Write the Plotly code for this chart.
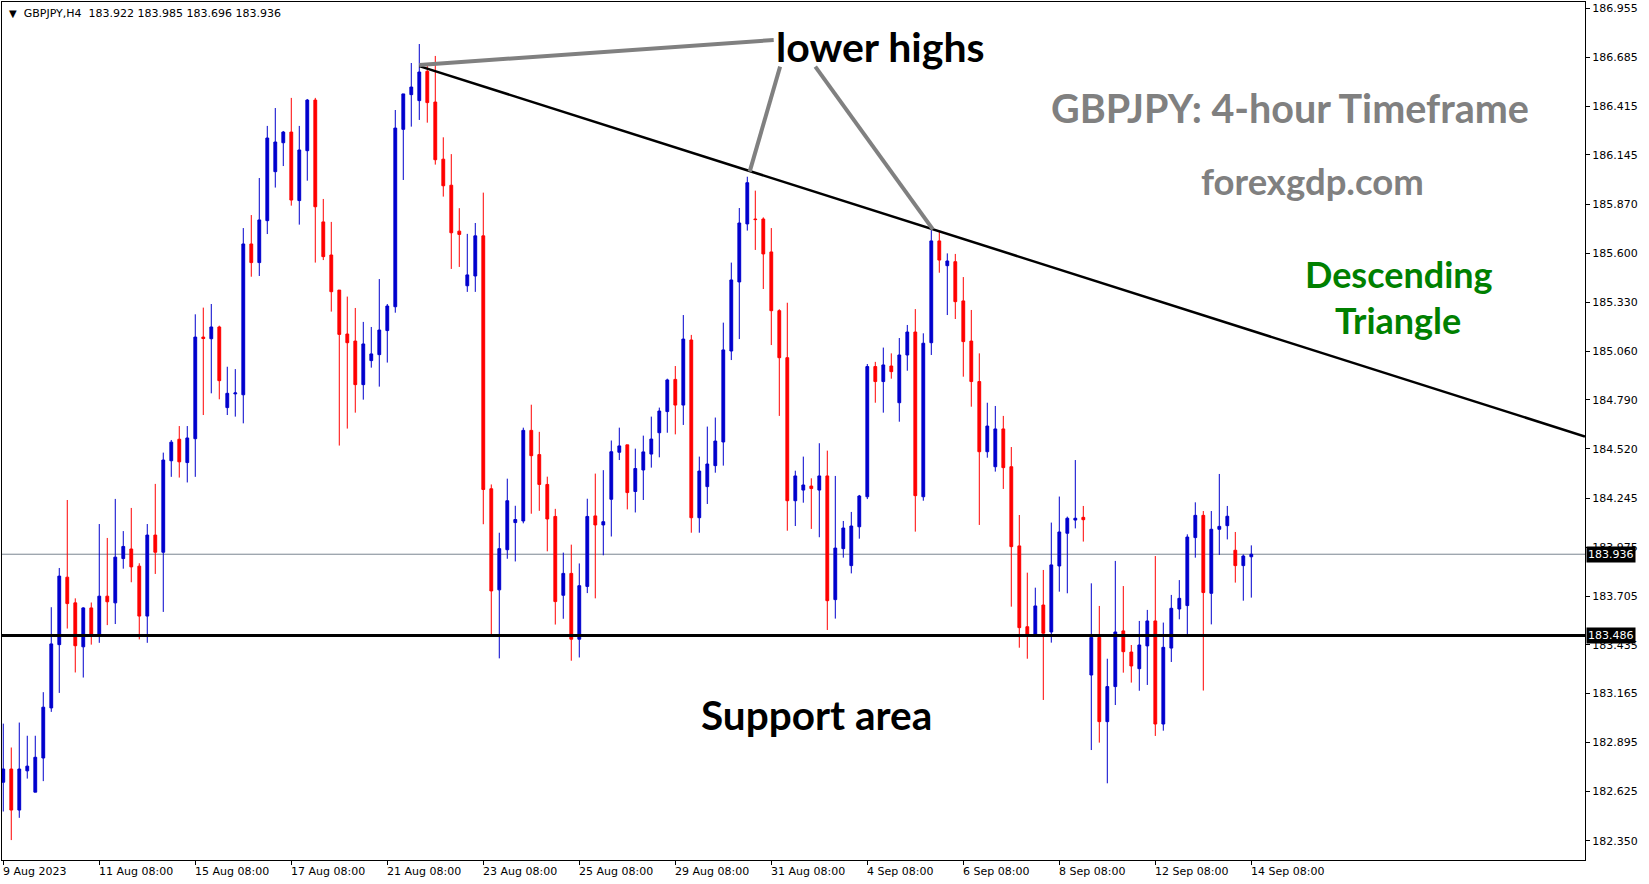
import plotly.graph_objects as go

# ---------------- data (H4 candles, bar index 0..156) ----------------
opens = [182.675,182.748,182.521,182.738,182.620,182.809,183.086,183.436,183.809,183.667,
         183.424,183.639,183.485,183.704,183.667,183.912,183.965,183.870,183.594,184.042,
         183.947,184.453,184.572,184.443,184.575,185.137,185.128,185.193,184.747,184.823,
         184.818,185.652,185.549,185.781,186.052,186.212,186.271,185.892,186.168,186.448,
         185.774,185.591,185.397,185.154,185.115,184.874,185.007,185.040,185.173,185.305,
         186.286,186.478,186.445,186.607,186.437,186.121,185.977,185.723,185.421,185.475,
         185.697,184.298,183.739,183.961,184.111,184.120,184.621,184.487,184.322,184.145,
         183.709,183.830,183.466,183.758,184.148,184.098,184.240,184.500,184.541,184.283,
         184.402,184.490,184.608,184.725,184.903,184.761,185.121,184.138,184.310,184.426,
         184.557,185.060,185.442,185.763,185.790,185.790,185.608,185.283,185.023,184.232,
         184.291,184.313,184.291,184.369,183.685,183.967,183.873,184.088,184.254,184.974,
         184.891,184.977,184.774,185.038,185.165,184.254,185.106,185.669,185.532,185.554,
         185.337,185.115,184.891,184.503,184.420,184.629,184.420,183.982,183.535,183.487,
         183.655,183.506,183.871,184.052,184.125,184.140,183.268,183.476,183.010,183.204,
         183.512,183.395,183.303,183.429,183.567,182.997,183.417,183.633,183.652,184.028,
         184.151,183.720,184.074,184.094,183.958,183.873,183.922]
highs = [182.999,182.867,183.005,182.932,182.932,183.173,183.643,183.860,184.236,183.692,
         183.643,183.669,184.103,184.026,184.242,184.064,184.192,183.886,184.103,184.325,
         184.498,184.568,184.645,184.645,185.263,185.300,185.320,185.200,184.973,184.960,
         185.740,185.812,186.017,186.305,186.404,186.277,186.460,186.305,186.454,186.460,
         185.901,185.774,185.397,185.361,185.298,185.221,185.193,185.458,185.320,186.393,
         186.482,186.653,186.758,186.644,186.692,186.242,186.149,185.850,185.708,185.768,
         185.936,184.322,184.055,184.354,184.204,184.636,184.763,184.613,184.365,184.187,
         183.945,183.989,183.885,184.243,184.382,184.401,184.565,184.636,184.541,184.520,
         184.592,184.697,184.747,184.907,184.977,185.259,185.149,184.476,184.642,184.692,
         185.217,185.549,185.851,186.024,185.947,185.799,185.740,185.291,185.327,184.398,
         184.476,184.356,184.550,184.509,184.369,184.120,184.170,184.264,184.988,185.000,
         185.079,185.047,185.132,185.204,185.292,185.158,185.729,185.720,185.600,185.597,
         185.469,185.287,185.047,184.774,184.756,184.701,184.529,184.153,183.834,183.751,
         183.849,184.111,184.255,184.144,184.457,184.203,183.775,183.650,183.358,183.899,
         183.760,183.434,183.567,183.628,183.926,183.558,183.711,183.793,184.046,184.223,
         184.175,184.175,184.380,184.203,184.059,183.935,183.985]
lows = [182.513,182.355,182.478,182.695,182.620,182.681,183.064,183.169,183.525,183.282,
        183.254,183.436,183.446,183.544,183.550,183.856,183.781,183.465,183.446,183.827,
        183.617,184.364,184.360,184.333,184.364,184.706,184.826,184.793,184.706,184.697,
        184.660,185.471,185.475,185.707,185.964,186.083,185.864,185.759,186.002,185.549,
        185.563,185.278,184.537,184.631,184.719,184.791,184.968,184.863,184.996,185.272,
        186.006,186.301,186.338,186.323,186.091,185.914,185.514,185.525,185.387,185.387,
        184.102,183.481,183.360,183.911,183.896,184.107,184.160,184.176,183.952,183.547,
        183.579,183.347,183.365,183.721,183.692,183.930,184.034,184.457,184.184,184.167,
        184.236,184.415,184.472,184.608,184.599,184.651,184.055,184.055,184.214,184.387,
        184.426,185.010,185.126,185.726,185.619,185.403,185.093,184.701,184.066,184.092,
        184.221,184.076,184.030,183.517,183.580,183.917,183.830,184.022,184.241,184.774,
        184.719,184.907,184.669,184.951,184.061,184.232,185.038,185.493,185.259,185.237,
        184.918,184.752,184.098,184.470,184.393,184.297,183.646,183.419,183.358,183.487,
        183.130,183.447,183.729,183.720,184.079,184.006,182.853,182.894,182.669,183.102,
        183.281,183.226,183.181,183.213,182.931,182.960,183.340,183.576,183.484,183.917,
        183.182,183.548,183.932,184.018,183.779,183.679,183.696]
closes = [182.748,182.521,182.748,182.764,182.813,183.090,183.440,183.815,183.663,183.430,
          183.639,183.485,183.704,183.673,183.920,183.979,183.866,183.594,184.042,183.947,
          184.457,184.556,184.447,184.579,185.137,185.129,185.193,184.896,184.826,184.828,
          185.652,185.549,185.785,186.238,186.216,186.271,185.895,186.172,186.448,185.858,
          185.582,185.388,185.152,185.106,184.874,185.099,185.044,185.176,185.309,186.293,
          186.482,186.520,186.603,186.434,186.118,185.974,185.714,185.705,185.481,185.697,
          184.294,183.733,183.967,184.232,184.128,184.621,184.481,184.322,184.131,183.674,
          183.830,183.466,183.762,184.145,184.098,184.116,184.503,184.535,184.277,184.410,
          184.502,184.573,184.728,184.900,184.761,185.126,184.138,184.396,184.435,184.562,
          185.066,185.453,185.768,185.991,185.787,185.597,185.283,185.023,184.232,184.369,
          184.319,184.299,184.369,183.679,183.970,184.081,184.092,184.258,184.974,184.891,
          184.983,184.946,185.038,185.165,184.260,185.103,185.669,185.563,185.558,185.333,
          185.112,184.891,184.503,184.645,184.629,184.415,183.978,183.530,183.487,183.650,
          183.499,183.877,184.059,184.135,184.135,184.127,183.476,183.010,183.204,183.506,
          183.397,183.318,183.434,183.567,182.997,183.421,183.637,183.692,184.031,184.151,
          183.724,184.074,184.090,184.146,183.873,183.926,183.936]
bar_index = list(range(len(opens)))

# x-axis time labels (every 12 bars)
time_tick_bars = [0, 12, 24, 36, 48, 60, 72, 84, 96, 108, 120, 132, 144, 156]
time_tick_labels = ["9 Aug 2023", "11 Aug 08:00", "15 Aug 08:00", "17 Aug 08:00",
                    "21 Aug 08:00", "23 Aug 08:00", "25 Aug 08:00", "29 Aug 08:00",
                    "31 Aug 08:00", "4 Sep 08:00", "6 Sep 08:00", "8 Sep 08:00",
                    "12 Sep 08:00", "14 Sep 08:00"]

# price axis labels
price_ticks = [186.955, 186.685, 186.415, 186.145, 185.870, 185.600, 185.330, 185.060,
               184.790, 184.520, 184.245, 183.975, 183.705, 183.435, 183.165, 182.895,
               182.625, 182.350]

support_level = 183.486
current_price = 183.936

# descending trend line anchors (bar index, price)
trend_x = [52.0, 197.7]
trend_y = [186.636, 184.587]

# annotation pointer lines for "lower highs" (bar index pairs, price pairs)
pointer_x = [(52.0, 96.3), (93.3, 97.1), (116.2, 101.5)]
pointer_y = [(186.642, 186.780), (186.052, 186.633), (185.733, 186.633)]

X_RANGE = [-0.16, 197.71]
Y_RANGE = [182.2448, 186.9904]

BLUE = "#0000CD"
RED = "#FF0000"
AXFONT = "DejaVu Sans"
BIGFONT = "Lato"

fig = go.Figure()
fig.add_trace(go.Candlestick(
    x=bar_index, open=opens, high=highs, low=lows, close=closes,
    increasing=dict(line=dict(color=BLUE, width=1), fillcolor=BLUE),
    decreasing=dict(line=dict(color=RED, width=1), fillcolor=RED),
    whiskerwidth=0, hoverinfo="skip", showlegend=False,
))

shapes = []
# current price line (thin gray)
shapes.append(dict(type="line", xref="paper", x0=0, x1=1, yref="y",
                   y0=current_price, y1=current_price,
                   line=dict(color="#7a8591", width=1), layer="below"))
# support line
shapes.append(dict(type="line", xref="paper", x0=0, x1=1, yref="y",
                   y0=support_level, y1=support_level,
                   line=dict(color="black", width=3)))
# trend line
shapes.append(dict(type="line", xref="x", yref="y",
                   x0=trend_x[0], y0=trend_y[0], x1=trend_x[1], y1=trend_y[1],
                   line=dict(color="black", width=2.5)))
for (xa, xb), (ya, yb) in zip(pointer_x, pointer_y):
    shapes.append(dict(type="line", xref="x", yref="y",
                       x0=xa, y0=ya, x1=xb, y1=yb,
                       line=dict(color="#808080", width=4)))

annotations = []
# header
annotations.append(dict(
    xref="paper", yref="paper", x=0, y=1, xanchor="left", yanchor="top",
    xshift=5, yshift=-3, showarrow=False,
    text="<span style='font-size:10px'>▼</span>\u00a0\u00a0GBPJPY,H4\u00a0\u00a0183.922 183.985 183.696 183.936",
    font=dict(family=AXFONT, size=11, color="black")))
# x labels
for b, lab in zip(time_tick_bars, time_tick_labels):
    annotations.append(dict(
        xref="x", yref="paper", x=b, y=0, xanchor="left", yanchor="top",
        xshift=-2, yshift=-3, showarrow=False, text=lab,
        font=dict(family=AXFONT, size=11, color="black")))
# price tags
for lvl in (current_price, support_level):
    annotations.append(dict(
        xref="paper", yref="y", x=1, y=lvl, xanchor="left", yanchor="middle",
        xshift=1, showarrow=False, text=f"{lvl:.3f}", bgcolor="black",
        borderpad=1, font=dict(family=AXFONT, size=11, color="white")))
# big texts (bar index, price)
big_texts = [
    ("<b>lower highs</b>", 109.7, 186.745, 41, "black"),
    ("<b>GBPJPY: 4-hour Timeframe</b>", 160.8, 186.405, 39.5, "#808080"),
    ("<b>forexgdp.com</b>", 163.7, 186.000, 36.5, "#808080"),
    ("<b>Descending</b>", 174.5, 185.485, 36, "#008000"),
    ("<b>Triangle</b>", 174.3, 185.230, 36, "#008000"),
    ("<b>Support area</b>", 101.6, 183.052, 40.5, "black"),
]
for txt, bx, py, fs, col in big_texts:
    annotations.append(dict(xref="x", yref="y", x=bx, y=py, xanchor="center",
                            yanchor="middle", showarrow=False, text=txt,
                            font=dict(family=BIGFONT, size=fs, color=col)))

fig.update_layout(
    width=1649, height=884,
    margin=dict(l=2, r=64, t=2, b=24, pad=0),
    paper_bgcolor="white", plot_bgcolor="white",
    boxgap=0.5,
    shapes=shapes, annotations=annotations,
    xaxis=dict(range=X_RANGE, rangeslider=dict(visible=False), showgrid=False,
               zeroline=False, showline=True, mirror=True, linecolor="black",
               linewidth=1, ticks="outside", ticklen=4, tickcolor="black",
               tickvals=time_tick_bars, showticklabels=False, fixedrange=True),
    yaxis=dict(range=Y_RANGE, side="right", showgrid=False, zeroline=False,
               showline=True, mirror=True, linecolor="black", linewidth=1,
               ticks="outside", ticklen=4, tickcolor="black",
               tickvals=price_ticks, ticktext=[f"{p:.3f}" for p in price_ticks],
               tickfont=dict(family=AXFONT, size=11, color="black"), fixedrange=True),
)

fig.write_html("out.html", config={"displayModeBar": False},
               post_script="document.body.style.margin='0px';document.body.style.padding='0px';")
